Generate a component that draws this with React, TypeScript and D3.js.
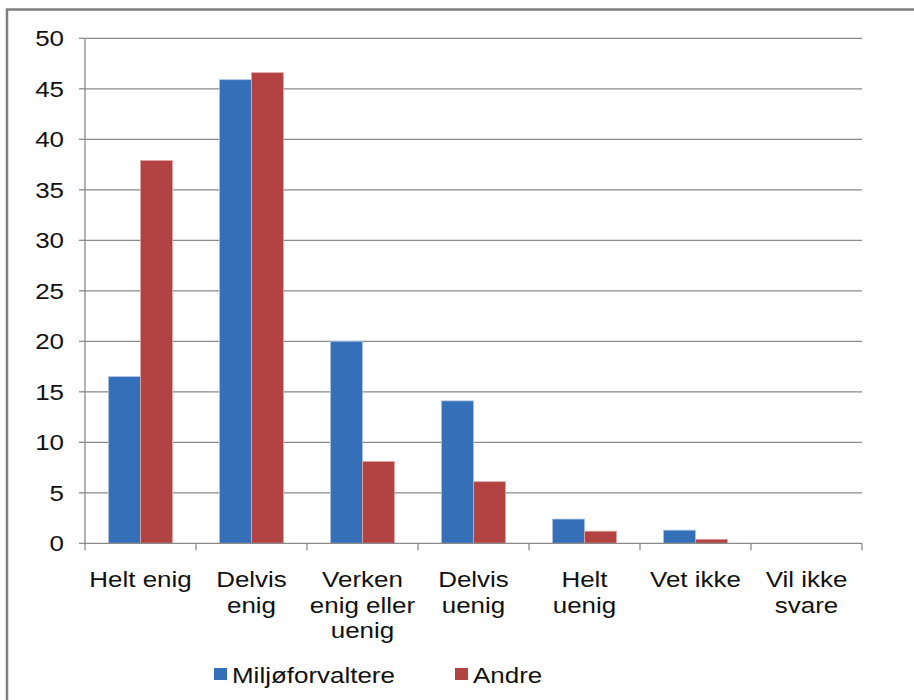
import React, { useRef, useEffect } from "react";
import * as d3 from "d3";

// categories (multi-line labels)
const categories = ["Helt enig", "Delvis enig", "Verken enig eller uenig", "Delvis uenig", "Helt uenig", "Vet ikke", "Vil ikke svare"];
const categoryLines = [
  ["Helt enig"],
  ["Delvis", "enig"],
  ["Verken", "enig eller", "uenig"],
  ["Delvis", "uenig"],
  ["Helt", "uenig"],
  ["Vet ikke"],
  ["Vil ikke", "svare"],
];
const seriesNames = ["Miljøforvaltere", "Andre"];
const miljoValues = [16.5, 45.9, 20.0, 14.1, 2.4, 1.3, 0];
const andreValues = [37.9, 46.6, 8.1, 6.1, 1.2, 0.4, 0];
const yTicks = [0, 5, 10, 15, 20, 25, 30, 35, 40, 45, 50];

const colors = ["#346FB8", "#B34343"];
const edgeColors = ["#A9C3E6", "#E3A6A6"];

export default function App() {
  const svgRef = useRef<SVGSVGElement>(null);

  useEffect(() => {
    const svg = d3.select(svgRef.current);
    svg.selectAll("*").remove();

    const left = 85;
    const right = 862;
    const top = 38.3;
    const bottom = 543.3;
    const font = "'Liberation Sans', Arial, sans-serif";
    const stretch = 1.18;
    const fs = 22;

    // outer frame
    svg.append("rect")
      .attr("x", 7).attr("y", 9.5).attr("width", 930).attr("height", 720)
      .attr("fill", "white").attr("stroke", "#7F7F7F").attr("stroke-width", 2.5);

    const x = d3.scaleBand<string>().domain(categories).range([left, right]);
    const xInner = d3.scaleBand<string>().domain(seriesNames)
      .range([0, x.bandwidth()]).paddingInner(0).paddingOuter(0.734);
    const y = d3.scaleLinear().domain([0, 50]).range([bottom, top]);

    // gridlines
    svg.append("g").selectAll("line").data(yTicks.filter(d => d > 0)).join("line")
      .attr("x1", left).attr("x2", right)
      .attr("y1", d => y(d)).attr("y2", d => y(d))
      .attr("stroke", "#8A8A8A").attr("stroke-width", 1.3);

    // bars
    const series = [miljoValues, andreValues];
    series.forEach((vals, si) => {
      svg.append("g").selectAll("rect").data(vals).join("rect")
        .attr("x", (d, i) => (x(categories[i]) as number) + (xInner(seriesNames[si]) as number))
        .attr("y", d => y(d))
        .attr("width", xInner.bandwidth())
        .attr("height", d => bottom - y(d))
        .attr("fill", colors[si])
        .attr("stroke", d => (d > 0 ? edgeColors[si] : "none"))
        .attr("stroke-width", 0.8);
    });

    // y axis
    svg.append("line").attr("x1", left).attr("x2", left).attr("y1", top).attr("y2", bottom)
      .attr("stroke", "#8A8A8A").attr("stroke-width", 1.3);
    svg.append("g").selectAll("line").data(yTicks).join("line")
      .attr("x1", left - 6).attr("x2", left)
      .attr("y1", d => y(d)).attr("y2", d => y(d))
      .attr("stroke", "#8A8A8A").attr("stroke-width", 1.3);
    svg.append("g").selectAll("text").data(yTicks).join("text")
      .attr("transform", d => `translate(${left - 21},${y(d) + 8}) scale(${stretch},1)`)
      .attr("text-anchor", "end")
      .attr("font-family", font).attr("font-size", fs).attr("fill", "#111")
      .text(d => d);

    // x axis
    svg.append("line").attr("x1", left).attr("x2", right).attr("y1", bottom).attr("y2", bottom)
      .attr("stroke", "#8A8A8A").attr("stroke-width", 1.3);
    const bounds = categories.map(c => x(c) as number).concat([right]);
    svg.append("g").selectAll("line").data(bounds).join("line")
      .attr("x1", d => d).attr("x2", d => d)
      .attr("y1", bottom).attr("y2", bottom + 7)
      .attr("stroke", "#8A8A8A").attr("stroke-width", 1.3);

    const labels = svg.append("g").selectAll("g").data(categories).join("g")
      .attr("transform", c => `translate(${(x(c) as number) + x.bandwidth() / 2},${bottom + 44}) scale(${stretch},1)`);
    labels.each(function (c, i) {
      d3.select(this).selectAll("text").data(categoryLines[i]).join("text")
        .attr("y", (d, j) => j * 25.5)
        .attr("text-anchor", "middle")
        .attr("font-family", font).attr("font-size", fs).attr("fill", "#111")
        .text(d => d);
    });

    // legend
    const legendX = [214, 455];
    seriesNames.forEach((name, si) => {
      const g = svg.append("g").attr("transform", `translate(${legendX[si]},668)`);
      g.append("rect").attr("width", 13).attr("height", 12).attr("fill", colors[si]);
      g.append("text")
        .attr("transform", `translate(18,15) scale(${stretch},1)`)
        .attr("font-family", font).attr("font-size", fs).attr("fill", "#111")
        .text(name);
    });
  }, []);

  return (
    <div style={{ position: "absolute", left: 0, top: 0 }}>
      <svg ref={svgRef} width={914} height={700} style={{ display: "block" }} />
    </div>
  );
}
